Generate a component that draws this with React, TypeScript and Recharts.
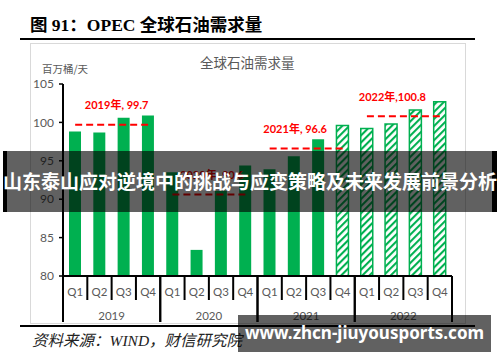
import React from "react";
import { BarChart, Bar, XAxis, YAxis, Cell, ReferenceLine } from "recharts";

const years = ["2019", "2020", "2021", "2022"];
const quarters = ["Q1", "Q2", "Q3", "Q4"];
// quarterly demand, mb/d
const demand = [98.8, 98.7, 100.6, 100.9, 93.5, 83.4, 91.1, 94.4, 93.9, 95.6, 97.8, 99.6, 99.2, 99.8, 101.6, 102.7];
// bars from this quarter on are forecasts (hatched)
const forecastFrom = "2021Q4";
const yearAvg = [99.7, 90.6, 96.6, 100.8];
const yearAvgText = ["2019年, 99.7", "2020年, 90.6", "2021年, 96.6", "2022年,100.8"];
const yTicks = [80, 85, 90, 95, 100, 105];

const GREEN = "#00B050";
const RED = "#FF0000";
const GREY = "#595959";
const NUM_FONT = "Lato, 'Noto Sans CJK SC', sans-serif";
const CJK_FONT = "'Noto Sans CJK SC', sans-serif";
const LABEL_DX = [5, 3, -11, -11];

const rows = years.flatMap((y, yi) =>
    quarters.map((q, qi) => ({ id: y + q, demand: demand[yi * 4 + qi] }))
);
const firstForecast = rows.findIndex((r) => r.id === forecastFrom);

const QuarterTick = (props: any) => {
    const { x, y, payload } = props;
    const id = String(payload.value);
    const q = id.slice(4);
    const qi = quarters.indexOf(q);
    const half = payload.offset || 12.15;
    return (
        <g>
            {qi === 0 && <line x1={x - half} x2={x - half} y1={y} y2={y + 46} stroke="#000" strokeWidth={2} />}
            <line x1={x + half} x2={x + half} y1={y} y2={y + (qi === 3 ? 46 : 24)} stroke="#000" strokeWidth={2} />
            <text x={x} y={y + 15} textAnchor="middle" dominantBaseline="central" fill={GREY} fontSize={11.5} fontFamily={NUM_FONT}>
                {q}
            </text>
            {qi === 1 && (
                <text x={x + half} y={y + 39} textAnchor="middle" dominantBaseline="central" fill={GREY} fontSize={11.5} fontFamily={NUM_FONT}>
                    {id.slice(0, 4)}
                </text>
            )}
        </g>
    );
};

const AvgLabel = (props: any) => {
    const { viewBox, text, dx } = props;
    if (!viewBox) return null;
    const cx = viewBox.x + (viewBox.width || 0) / 2 + dx;
    return (
        <text x={cx} y={viewBox.y - 20} textAnchor="middle" dominantBaseline="central" fill={RED} fontSize={11} fontWeight="bold" fontFamily={NUM_FONT}>
            {text}
        </text>
    );
};

export default function App() {
    return (
        <div style={{ position: "fixed", left: 0, top: 0, width: 500, height: 362, background: "#fff", overflow: "hidden" }}>
            <div style={{ position: "absolute", left: 30, top: 16, fontSize: 17.5, lineHeight: "18px", fontWeight: "bold", fontFamily: "'Liberation Serif', 'Noto Sans CJK SC', serif", whiteSpace: "nowrap" }}>
                图 91：OPEC 全球石油需求量
            </div>
            <div style={{ position: "absolute", left: 20, top: 38, width: 455, height: 2, background: "#000" }} />
            <div style={{ position: "absolute", left: 30, top: 43, width: 434, height: 279, border: "1px solid #d9d9d9" }} />
            <div style={{ position: "absolute", left: 20, top: 325, width: 455, height: 2, background: "#000" }} />
            <div style={{ position: "absolute", left: 200, top: 55, fontSize: 13.5, lineHeight: "14px", color: GREY, fontFamily: CJK_FONT, whiteSpace: "nowrap" }}>
                全球石油需求量
            </div>
            <div style={{ position: "absolute", left: 42, top: 63, fontSize: 10.5, lineHeight: "12px", color: GREY, fontFamily: CJK_FONT, whiteSpace: "nowrap" }}>
                百万桶/天
            </div>
            <div style={{ position: "absolute", left: 32, top: 333, fontSize: 15.5, lineHeight: "16px", fontStyle: "italic", color: "#222", fontFamily: "'Liberation Serif', 'Noto Sans CJK SC', serif", whiteSpace: "nowrap" }}>
                资料来源：WIND，财信研究院
            </div>

            <div style={{ position: "absolute", left: 0, top: 0 }}>
                <BarChart width={500} height={362} data={rows} margin={{ top: 84, right: 48, bottom: 40, left: 33 }} barSize={12}>
                    <defs>
                        <pattern id="hatch" patternUnits="userSpaceOnUse" width="5" height="5" patternTransform="rotate(45)">
                            <rect width="5" height="5" fill="#fff" />
                            <line x1="1" y1="0" x2="1" y2="5" stroke={GREEN} strokeWidth="2.2" />
                        </pattern>
                    </defs>
                    <YAxis
                        domain={[80, 105]}
                        ticks={yTicks}
                        width={30}
                        allowDataOverflow
                        axisLine={{ stroke: "#000", strokeWidth: 2 }}
                        tickLine={{ stroke: "#000", strokeWidth: 1.5 }}
                        tickSize={4}
                        tickMargin={5}
                        tick={{ fill: GREY, fontSize: 12, fontFamily: NUM_FONT }}
                    />
                    <XAxis
                        dataKey="id"
                        interval={0}
                        height={46}
                        tickLine={false}
                        tickSize={0}
                        tickMargin={0}
                        axisLine={{ stroke: "#000", strokeWidth: 2 }}
                        tick={<QuarterTick />}
                    />
                    <Bar dataKey="demand" isAnimationActive={false}>
                        {rows.map((r, i) => (
                            <Cell
                                key={r.id}
                                fill={i >= firstForecast ? "url(#hatch)" : GREEN}
                                stroke={i >= firstForecast ? GREEN : "none"}
                                strokeWidth={1.5}
                            />
                        ))}
                    </Bar>
                    {years.map((y, i) => (
                        <ReferenceLine
                            key={y}
                            segment={[
                                { x: y + "Q1", y: yearAvg[i] },
                                { x: y + "Q4", y: yearAvg[i] },
                            ]}
                            stroke={RED}
                            strokeWidth={2}
                            strokeDasharray="7 4"
                            ifOverflow="visible"
                            isFront
                            label={<AvgLabel text={yearAvgText[i]} dx={LABEL_DX[i]} />}
                        />
                    ))}
                </BarChart>
            </div>

            <div style={{ position: "absolute", left: 3, top: 151, width: 494, height: 61, background: "rgba(0,0,0,0.62)", borderLeft: "4px solid #000", borderRight: "5px solid #000", boxSizing: "border-box" }} />
            <div style={{ position: "absolute", left: 0, top: 171, width: 500, textAlign: "center", fontSize: 19, lineHeight: "20px", fontWeight: "bold", color: "#fff", fontFamily: CJK_FONT, whiteSpace: "nowrap" }}>
                山东泰山应对逆境中的挑战与应变策略及未来发展前景分析
            </div>
            <div style={{ position: "absolute", left: 238, top: 315, width: 253, height: 37, background: "rgba(0,0,0,0.62)" }} />
            <div style={{ position: "absolute", left: 238, top: 322, width: 253, textAlign: "center", fontSize: 17, lineHeight: "22px", fontWeight: "bold", color: "#fff", fontFamily: "'Noto Sans', sans-serif", whiteSpace: "nowrap" }}>
                www.zhcn-jiuyousports.com
            </div>
        </div>
    );
}
